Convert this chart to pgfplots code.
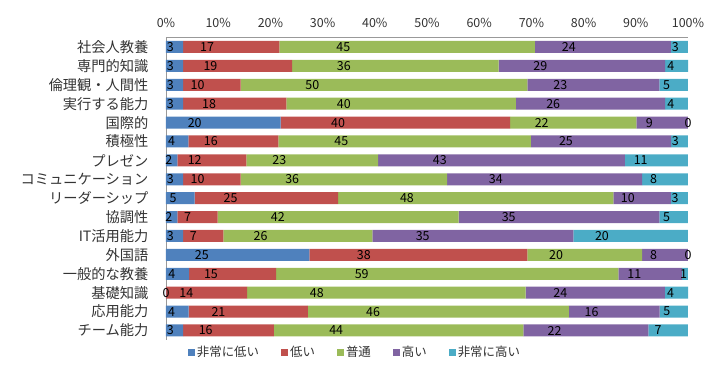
\documentclass[border=0pt]{standalone}
\usepackage{fontspec}
\setmainfont{Noto Sans CJK JP}
\usepackage{pgfplots}
\pgfplotsset{compat=1.18}
\usepackage{pgfplotstable}
\definecolor{c1}{HTML}{4F81BD}
\definecolor{c2}{HTML}{C0504D}
\definecolor{c3}{HTML}{9BBB59}
\definecolor{c4}{HTML}{8064A2}
\definecolor{c5}{HTML}{4BACC6}
\pgfplotstableread{
y a b c d e
15 3 17 45 24 3
14 3 19 36 29 4
13 3 10 50 23 5
12 3 18 40 26 4
11 20 40 22 9 0
10 4 16 45 25 3
9 2 12 23 43 11
8 3 10 36 34 8
7 5 25 48 10 3
6 2 7 42 35 5
5 3 7 26 35 20
4 25 38 20 8 0
3 4 15 59 11 1
2 0 14 48 24 4
1 4 21 46 16 5
0 3 16 44 22 7
}\data
\pgfplotstablecreatecol[expr={\thisrow{a}+\thisrow{b}+\thisrow{c}+\thisrow{d}+\thisrow{e}}]{t}\data
\begin{document}
\begin{tikzpicture}
\begin{axis}[
  xbar stacked,
  x=5.22bp, y=18.9bp,
  xmin=0, xmax=100, ymin=-0.5, ymax=15.5,
  bar width=12bp,
  clip=false,
  axis x line*=top, axis y line*=left,
  axis line style={draw=gray!80, line width=0.8pt},
  major tick length=0pt,
  xtick={0,10,...,100},
  xticklabel={\pgfmathprintnumber{\tick}\%},
  /pgf/number format/assume math mode=true,
  xticklabel style={font=\fontsize{12.5}{12.5}\selectfont, text=black!80, yshift=6bp},
  ytick={0,...,15},
  yticklabels={チーム能力,応用能力,基礎知識,一般的な教養,外国語,IT活用能力,協調性,リーダーシップ,コミュニケーション,プレゼン,積極性,国際的,実行する能力,倫理観・人間性,専門的知識,社会人教養},
  yticklabel style={font=\fontsize{14.3}{14.3}\selectfont, text=black!80, xshift=-14bp},
  point meta=explicit,
  nodes near coords,
  every node near coord/.append style={anchor=center, font=\fontsize{12.5}{12.5}\selectfont, text=black, inner sep=0pt},
  legend columns=5,
  legend style={at={(0.362,-0.04)}, anchor=center, draw=none, font=\fontsize{12.5}{12.5}\selectfont, text=black!80,
    /tikz/every even column/.append style={column sep=20bp}},
  legend image code/.code={\fill[#1] (0bp,-3.5bp) rectangle (7bp,3.5bp);},
]
\addplot[fill=c1, draw=none, visualization depends on={\thisrow{a}*100/\thisrow{t} \as \pct},
  every node near coord/.append style={xshift={-0.25*\pct*5.22bp}}]
  table[x expr={max(\thisrow{a}*100/\thisrow{t},0.001)}, y=y, meta=a] {\data};
\addplot[fill=c2, draw=none, visualization depends on={\thisrow{b}*100/\thisrow{t} \as \pct},
  every node near coord/.append style={xshift={-0.25*\pct*5.22bp}}]
  table[x expr=\thisrow{b}*100/\thisrow{t}, y=y, meta=b] {\data};
\addplot[fill=c3, draw=none, visualization depends on={\thisrow{c}*100/\thisrow{t} \as \pct},
  every node near coord/.append style={xshift={-0.25*\pct*5.22bp}}]
  table[x expr=\thisrow{c}*100/\thisrow{t}, y=y, meta=c] {\data};
\addplot[fill=c4, draw=none, visualization depends on={\thisrow{d}*100/\thisrow{t} \as \pct},
  every node near coord/.append style={xshift={-0.25*\pct*5.22bp}}]
  table[x expr=\thisrow{d}*100/\thisrow{t}, y=y, meta=d] {\data};
\addplot[fill=c5, draw=none, visualization depends on={\thisrow{e}*100/\thisrow{t} \as \pct},
  every node near coord/.append style={xshift={-0.25*\pct*5.22bp}}]
  table[x expr={max(\thisrow{e}*100/\thisrow{t},0.001)}, y=y, meta=e] {\data};
\legend{非常に低い,低い,普通,高い,非常に高い}
\coordinate (O) at (axis cs:0,15);
\end{axis}
\path ([shift={(-166bp,47bp)}]O) rectangle ([shift={(542bp,-333bp)}]O);
\end{tikzpicture}
\end{document}
